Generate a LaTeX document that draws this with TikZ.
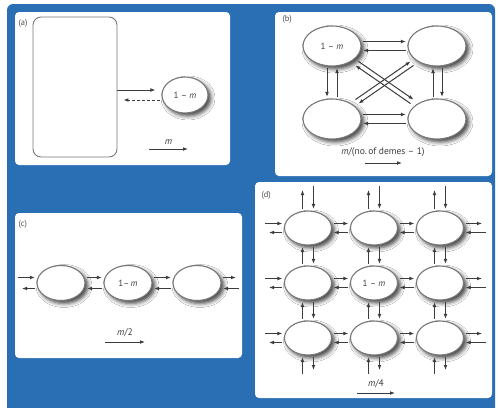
\documentclass[tikz,border=0pt]{standalone}
\usepackage{fontspec}
\setmainfont{PT Sans}
\usetikzlibrary{shapes.geometric,arrows.meta,shadows.blur}
\definecolor{bgblue}{RGB}{42,110,180}
\definecolor{demegray}{RGB}{120,120,120}
\definecolor{arrgray}{RGB}{60,60,60}
\definecolor{lblgray}{RGB}{80,80,80}

\begin{document}
\begin{tikzpicture}[
    x=1pt,y=-1pt,
    deme/.style={ellipse,draw=demegray,line width=1.1pt,fill=white,inner sep=0pt,
      font=\fontsize{9}{10}\selectfont,text=arrgray,
      blur shadow={shadow xshift=3pt,shadow yshift=-3pt,shadow blur radius=4pt,shadow opacity=75}},
    panel/.style={fill=white,rounded corners=4pt},
    arr/.style={-{Latex[length=5pt,width=3.8pt]},line width=1pt,draw=arrgray,shorten <=1.5pt,shorten >=1.5pt},
    paneltag/.style={font=\fontsize{8.5}{9}\selectfont,text=lblgray,anchor=west},
    scalelbl/.style={font=\fontsize{9.5}{10}\selectfont,text=arrgray}
]
\useasboundingbox (0,0) rectangle (498,407);
\fill[bgblue,rounded corners=6pt] (7,4) rectangle (495,414);

% panels
\fill[panel] (15,12) rectangle (230,165);
\fill[panel] (275,12) rectangle (492,176);
\fill[panel] (15,213) rectangle (242,358);
\fill[panel] (255,182) rectangle (492,398);
\node[paneltag] (taga) at (15,23) {(a)};
\node[paneltag] (tagb) at (279,19) {(b)};
\node[paneltag] (tagc) at (15,224) {(c)};
\node[paneltag] (tagd) at (258,195) {(d)};

% (a) continent--island
\node[draw=demegray,line width=0.9pt,rounded corners=8pt,minimum width=84pt,minimum height=140pt] (island) at (75,87) {};
\node[deme,minimum width=46pt,minimum height=36pt] (anode) at (185,95) {1 -- \textit{m}};
\draw[arr,shorten <=0pt,shorten >=6pt] ([yshift=-3pt]island.east) -- ([yshift=5pt]anode.west);
\draw[arr,dash pattern=on 3pt off 2pt,shorten >=6pt] ([yshift=-5pt]anode.west) -- ([yshift=-13pt]island.east);
\coordinate (ma) at (149,149);
\coordinate (mb) at (188,149);
\draw[arr,shorten <=0pt,shorten >=0pt] (ma) -- node[scalelbl,above=1pt] (mlbl) {\textit{m}} (mb);

% (b) island model
\node[deme,minimum width=58pt,minimum height=40pt] (tl) at (332,46) {1 -- \textit{m}};
\node[deme,minimum width=58pt,minimum height=40pt] (tr) at (437,46) {};
\node[deme,minimum width=58pt,minimum height=40pt] (bl) at (332,119) {};
\node[deme,minimum width=58pt,minimum height=40pt] (br) at (437,119) {};
\draw[arr] ([yshift=4.5pt]tl.east) -- ([yshift=4.5pt]tr.west);
\draw[arr] ([yshift=-4.5pt]tr.west) -- ([yshift=-4.5pt]tl.east);
\draw[arr] ([yshift=4.5pt]bl.east) -- ([yshift=4.5pt]br.west);
\draw[arr] ([yshift=-4.5pt]br.west) -- ([yshift=-4.5pt]bl.east);
\draw[arr] ([xshift=-5pt]tl.south) -- ([xshift=-5pt]bl.north);
\draw[arr] ([xshift=5pt]bl.north) -- ([xshift=5pt]tl.south);
\draw[arr] ([xshift=-4pt]br.north) -- ([xshift=-4pt]tr.south);
\draw[arr] ([xshift=5pt]tr.south) -- ([xshift=5pt]br.north);
\draw[arr,shorten <=5pt,shorten >=5pt] ([xshift=1.5pt,yshift=2pt]tl.-35) -- ([xshift=1.5pt,yshift=2pt]br.145);
\draw[arr,shorten <=5pt,shorten >=5pt] ([xshift=-1.5pt,yshift=-2pt]br.145) -- ([xshift=-1.5pt,yshift=-2pt]tl.-35);
\draw[arr,shorten <=5pt,shorten >=5pt] ([xshift=-1.5pt,yshift=2pt]bl.35) -- ([xshift=-1.5pt,yshift=2pt]tr.215);
\draw[arr,shorten <=5pt,shorten >=5pt] ([xshift=1.5pt,yshift=-2pt]tr.215) -- ([xshift=1.5pt,yshift=-2pt]bl.35);
\node[scalelbl] (blbl) at (383,152) {\textit{m}/(no.\,of demes -- 1)};
\coordinate (bsa) at (365,163);
\coordinate (bsb) at (402,163);
\draw[arr,shorten <=0pt,shorten >=0pt] (bsa) -- (bsb);

% (c) one-dimensional stepping stone
\node[deme,minimum width=48pt,minimum height=35pt] (c1) at (61,283) {};
\node[deme,minimum width=48pt,minimum height=35pt] (c2) at (128,283) {1--\,\textit{m}};
\node[deme,minimum width=48pt,minimum height=35pt] (c3) at (197,283) {};
\foreach \a/\b in {c1/c2,c2/c3} {
  \draw[arr] ([yshift=5.5pt]\a.east) -- ([yshift=5.5pt]\b.west);
  \draw[arr] ([yshift=-5.5pt]\b.west) -- ([yshift=-5.5pt]\a.east);
}
\coordinate (cla) at (18,277.5);
\coordinate (clb) at (22,288.5);
\coordinate (cra) at (236,277.5);
\coordinate (crb) at (239,288.5);
\draw[arr,shorten <=0pt] (cla) -- ([yshift=5.5pt]c1.west);
\draw[arr,shorten >=0pt] ([yshift=-5.5pt]c1.west) -- (clb);
\draw[arr,shorten >=0pt] ([yshift=5.5pt]c3.east) -- (cra);
\draw[arr,shorten <=0pt] (crb) -- ([yshift=-5.5pt]c3.east);
\coordinate (csa) at (105,342);
\coordinate (csb) at (145,342);
\draw[arr,shorten <=0pt,shorten >=0pt] (csa) -- node[scalelbl,above=1pt] (clbl) {\textit{m}/2} (csb);

% (d) two-dimensional stepping stone
\foreach \r/\y in {1/228,2/283,3/338} {
  \foreach \c/\x in {1/308,2/374,3/440}
    \node[deme,minimum width=47pt,minimum height=34pt] (d\r\c) at (\x,\y) {\ifnum\r\c=22 1 -- \textit{m}\fi};
  \coordinate (dl\r a) at (265,\y-4.5);
  \coordinate (dl\r b) at (269,\y+4.5);
  \coordinate (dr\r a) at (482,\y-4.5);
  \coordinate (dr\r b) at (486,\y+4.5);
  \draw[arr,shorten <=0pt] (dl\r a) -- ([yshift=4.5pt]d\r1.west);
  \draw[arr,shorten >=0pt] ([yshift=-4.5pt]d\r1.west) -- (dl\r b);
  \draw[arr,shorten >=0pt] ([yshift=4.5pt]d\r3.east) -- (dr\r a);
  \draw[arr,shorten <=0pt] (dr\r b) -- ([yshift=-4.5pt]d\r3.east);
  \foreach \c/\n in {1/2,2/3} {
    \draw[arr] ([yshift=4.5pt]d\r\c.east) -- ([yshift=4.5pt]d\r\n.west);
    \draw[arr] ([yshift=-4.5pt]d\r\n.west) -- ([yshift=-4.5pt]d\r\c.east);
  }
}
\foreach \c/\x in {1/308,2/374,3/440} {
  \coordinate (dt\c a) at (\x-5.5,190);
  \coordinate (dt\c b) at (\x+5.5,186);
  \coordinate (db\c a) at (\x-5.5,374);
  \coordinate (db\c b) at (\x+5.5,370);
  \draw[arr,shorten >=0pt] ([xshift=-5.5pt]d1\c.north) -- (dt\c a);
  \draw[arr,shorten <=0pt] (dt\c b) -- ([xshift=5.5pt]d1\c.north);
  \draw[arr,shorten <=0pt] (db\c a) -- ([xshift=-5.5pt]d3\c.south);
  \draw[arr,shorten >=0pt] ([xshift=5.5pt]d3\c.south) -- (db\c b);
  \foreach \r/\n in {1/2,2/3} {
    \draw[arr] ([xshift=-5.5pt]d\n\c.north) -- ([xshift=-5.5pt]d\r\c.south);
    \draw[arr] ([xshift=5.5pt]d\r\c.south) -- ([xshift=5.5pt]d\n\c.north);
  }
}
\coordinate (dsa) at (357,393);
\coordinate (dsb) at (395,393);
\draw[arr,shorten <=0pt,shorten >=0pt] (dsa) -- node[scalelbl,above=1pt] (dlbl) {\textit{m}/4} (dsb);
\end{tikzpicture}
\end{document}
